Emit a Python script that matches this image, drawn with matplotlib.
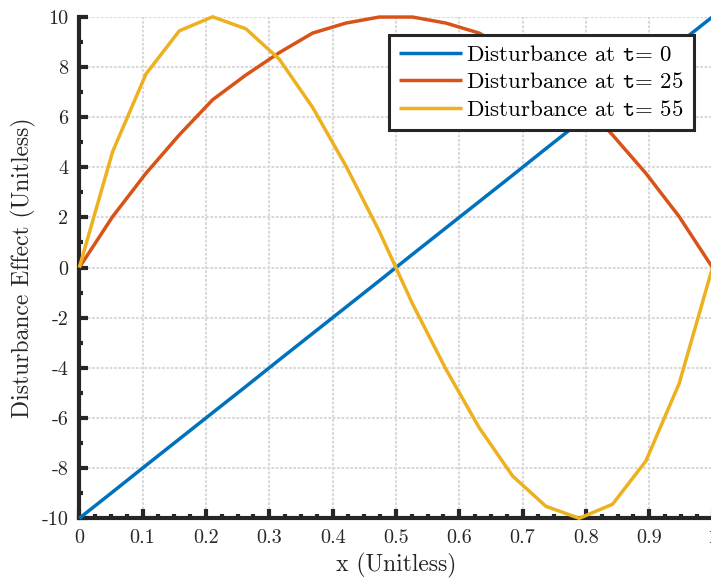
import matplotlib
matplotlib.use("Agg")
import matplotlib.pyplot as plt
from matplotlib.ticker import MultipleLocator, FixedLocator

plt.rcParams["font.family"] = "serif"
plt.rcParams["font.serif"] = ["cmr10", "DejaVu Serif"]
plt.rcParams["mathtext.fontset"] = "cm"
plt.rcParams["axes.formatter.use_mathtext"] = True

# Sample positions along the domain
x_vals = [0.0, 0.0526, 0.1053, 0.1579, 0.2105, 0.2632, 0.3158, 0.3684, 0.4211, 0.4737,
          0.5263, 0.5789, 0.6316, 0.6842, 0.7368, 0.7895, 0.8421, 0.8947, 0.9474, 1.0]

# Disturbance profiles at three time instants
dist_t0 = [-10.0, -8.95, -7.89, -6.84, -5.79, -4.74, -3.68, -2.63, -1.58, -0.53,
           0.53, 1.58, 2.63, 3.68, 4.74, 5.79, 6.84, 7.89, 8.95, 10.0]
dist_t25 = [0.0, 2.03, 3.76, 5.29, 6.69, 7.68, 8.57, 9.35, 9.75, 9.99,
            9.99, 9.75, 9.35, 8.57, 7.68, 6.69, 5.29, 3.76, 2.03, 0.0]
dist_t55 = [0.0, 4.62, 7.72, 9.44, 10.0, 9.52, 8.31, 6.39, 4.05, 1.45,
            -1.45, -4.05, -6.39, -8.31, -9.52, -10.0, -9.44, -7.72, -4.62, 0.0]

series_labels = [r"Disturbance at $\mathtt{t}$= 0",
                 r"Disturbance at $\mathtt{t}$= 25",
                 r"Disturbance at $\mathtt{t}$= 55"]
series_colors = ["#0072BD", "#D95319", "#EDB120"]

x_ticks = [0, 0.1, 0.2, 0.3, 0.4, 0.5, 0.6, 0.7, 0.8, 0.9, 1.0]
x_tick_labels = ["0", "0.1", "0.2", "0.3", "0.4", "0.5", "0.6", "0.7", "0.8", "0.9", "1"]
y_ticks = [-10, -8, -6, -4, -2, 0, 2, 4, 6, 8, 10]
y_tick_labels = ["-10", "-8", "-6", "-4", "-2", "0", "2", "4", "6", "8", "10"]

W, H, DPI = 711, 579, 100
fig = plt.figure(figsize=(W / DPI, H / DPI), dpi=DPI)
ax_left, ax_right, ax_top, ax_bottom = 79.3, 712.5, 16.8, 518.3
ax = fig.add_axes([ax_left / W, 1 - ax_bottom / H,
                   (ax_right - ax_left) / W, (ax_bottom - ax_top) / H])

axis_color = "#262626"

for ys, lab, col in zip([dist_t0, dist_t25, dist_t55], series_labels, series_colors):
    ax.plot(x_vals, ys, color=col, lw=2.5, label=lab, clip_on=False,
            zorder=3, solid_joinstyle="round", solid_capstyle="butt")

ax.set_xlim(0, 1)
ax.set_ylim(-10, 10)

ax.xaxis.set_major_locator(FixedLocator(x_ticks))
ax.set_xticklabels(x_tick_labels)
ax.yaxis.set_major_locator(FixedLocator(y_ticks))
ax.set_yticklabels(y_tick_labels)
ax.xaxis.set_minor_locator(MultipleLocator(0.025))
ax.yaxis.set_minor_locator(MultipleLocator(1))

ax.grid(True, which="major", color="#d9d9d9", lw=1.5, linestyle=(0, (1.3, 0.8)))
ax.set_axisbelow(True)

for side in ["top", "right"]:
    ax.spines[side].set_visible(False)
for side in ["left", "bottom"]:
    ax.spines[side].set_linewidth(3)
    ax.spines[side].set_color(axis_color)

ax.tick_params(which="major", direction="in", length=6.5, width=3, color=axis_color,
               labelsize=14.5, labelcolor="#262626")
ax.tick_params(which="minor", direction="in", length=3.2, width=3, color=axis_color)
ax.tick_params(axis="x", which="major", pad=8)
ax.tick_params(axis="y", which="major", pad=8)

ax.set_xlabel("x (Unitless)", fontsize=17, color="#262626", va="center")
ax.xaxis.set_label_coords(0.5, (ax_bottom - 565) / (ax_bottom - ax_top))
ax.set_ylabel("Disturbance Effect (Unitless)", fontsize=17, color="#262626", va="center")
ax.yaxis.set_label_coords((23 - ax_left) / (ax_right - ax_left), 0.5)

leg = ax.legend(loc="upper right",
                bbox_to_anchor=((694 - ax_left) / (ax_right - ax_left),
                                (ax_bottom - 35) / (ax_bottom - ax_top)),
                borderaxespad=0, fontsize=16.5, fancybox=False, framealpha=1,
                edgecolor="#262626", handlelength=2.75, handletextpad=0.17,
                labelspacing=0.31, borderpad=0.45)
leg.get_frame().set_linewidth(2.2)
leg.set_zorder(5)

fig.savefig("out.png", dpi=DPI)
